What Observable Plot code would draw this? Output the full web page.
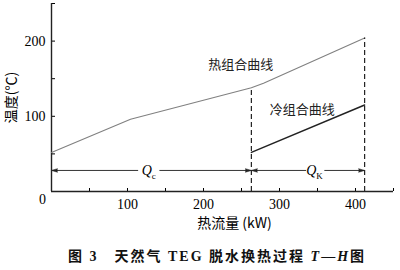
<!DOCTYPE html>
<html><head><meta charset="utf-8">
<script src="https://cdn.jsdelivr.net/npm/d3@7"></script>
<script src="https://cdn.jsdelivr.net/npm/@observablehq/plot@0.6"></script>
<style>
body{margin:0;background:#fff;width:400px;height:270px;overflow:hidden;}
#cap{font-family:"Liberation Serif","Noto Sans CJK SC";font-weight:bold;font-size:14px;line-height:24px;letter-spacing:2px;text-align:center;padding-left:34px;box-sizing:border-box;width:400px;color:#111;}
</style></head><body><div id="chart"></div><div id="cap">图 3　天然气 TEG 脱水换热过程 <i>T</i>—<i>H</i>图</div>
<script>
const hotQ = [0, 104, 263, 279, 412];
const hotT = [52, 96, 138, 144, 204];
const coldQ = [263, 412];
const coldT = [52, 115];
const dashQ = [263, 412];
const dashTop = [138, 204];
const arrowT = 28;
const arrowFrom = [114, 142, 335, 359];
const arrowTo = [0, 263, 263, 412];
const qLabels = ["Qc", "QK"];
const qLabelQ = [128, 346];
const curveNames = ["热组合曲线", "冷组合曲线"];
const curveNameQ = [249, 330];
const curveNameT = [168, 109];
const xTickVals = [0, 50, 100, 150, 200, 250, 300, 350, 400, 450];
const xLabelVals = [100, 200, 300, 400];
const yTickVals = [50, 100, 150, 200, 250];
const yLabelVals = [100, 200];

const hot = hotQ.map((q, i) => ({q, t: hotT[i]}));
const cold = coldQ.map((q, i) => ({q, t: coldT[i]}));
const dash = dashQ.map((q, i) => ({q, top: dashTop[i]}));
const arrows = arrowFrom.map((a, i) => ({a, b: arrowTo[i]}));
const cjk = "Noto Sans CJK SC";

const svg = Plot.plot({
  width: 400, height: 245,
  marginLeft: 51, marginRight: 7, marginTop: 3, marginBottom: 54,
  style: {fontFamily: "Liberation Serif", fontSize: "14px", color: "black", background: "white"},
  x: {domain: [0, 450]},
  y: {domain: [0, 250]},
  marks: [
    Plot.axisX({ticks: xLabelVals, tickSize: 0, tickPadding: 8, label: null, fontSize: 14}),
    Plot.axisX({ticks: xTickVals, tickSize: 3, dy: -3, tickFormat: () => "", label: null}),
    Plot.axisY({ticks: yLabelVals, tickSize: 0, tickPadding: 6, label: null, fontSize: 14}),
    Plot.axisY({ticks: yTickVals, tickSize: 4, dx: 4, tickFormat: () => "", label: null}),
    Plot.text(["0"], {x: 0, y: 0, dx: -9, dy: 8, fontSize: 14}),
    Plot.ruleX([0], {stroke: "#222", strokeWidth: 1.4}),
    Plot.ruleY([0], {stroke: "#222", strokeWidth: 1.4}),
    Plot.line(hot, {x: "q", y: "t", stroke: "#808080", strokeWidth: 1.1}),
    Plot.line(cold, {x: "q", y: "t", stroke: "#222", strokeWidth: 1.5}),
    Plot.ruleX(dash, {x: "q", y1: 0, y2: "top", stroke: "#222", strokeWidth: 1.2, strokeDasharray: "5,3"}),
    Plot.link(arrows, {x1: "a", x2: "b", y1: arrowT, y2: arrowT, stroke: "#333", strokeWidth: 1}),
    Plot.vector(arrows, {x: "b", y: arrowT, length: 6, r: 1.8, shape: "spike", anchor: "end",
      rotate: d => (d.b < d.a ? -90 : 90), fill: "#222", stroke: "#222", strokeWidth: 0.5}),
    Plot.text(qLabels, {x: qLabelQ, y: arrowT, text: d => d, fontSize: 14}),
    Plot.text(curveNames, {x: curveNameQ, y: curveNameT, text: d => d, fontFamily: cjk, fontSize: 13, fill: "#222"}),
    Plot.text(["温度(℃)"], {frameAnchor: "left", textAnchor: "middle", dx: -40, rotate: -90, fontFamily: cjk, fontSize: 14}),
    Plot.text(["热流量 (kW)"], {frameAnchor: "bottom", dx: 12, dy: 36, fontFamily: cjk, fontSize: 14})
  ]
});

d3.select(svg).selectAll("text").each(function() {
  const s = this.textContent;
  if (/^Q[cK]$/.test(s)) {
    const sub = s[1];
    this.textContent = "";
    const sel = d3.select(this);
    sel.append("tspan").attr("font-style", "italic").text("Q");
    sel.append("tspan").attr("font-size", 9).attr("dy", 4).text(sub);
  }
});
document.getElementById("chart").appendChild(svg);
</script>
</body></html>
